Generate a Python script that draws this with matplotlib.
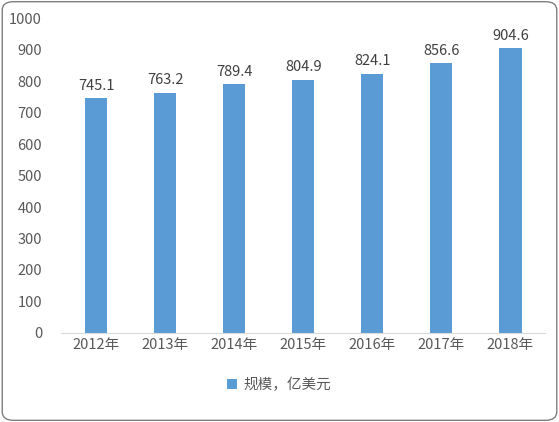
import matplotlib.pyplot as plt
from matplotlib.patches import FancyBboxPatch

plt.rcParams['font.family'] = ['Noto Sans CJK SC', 'DejaVu Sans']

years = ["2012年", "2013年", "2014年", "2015年", "2016年", "2017年", "2018年"]
values = [745.1, 763.2, 789.4, 804.9, 824.1, 856.6, 904.6]
series_name = "规模，亿美元"

fig = plt.figure(figsize=(5.59, 4.22), dpi=100)
fig.patches.append(FancyBboxPatch((0.004, 0.004), 0.992, 0.992, boxstyle="round,pad=0,rounding_size=0.02",
                                  transform=fig.transFigure, fill=False, edgecolor="#7f7f7f", linewidth=1))
ax = fig.add_axes([0.11, 0.211, 0.865, 0.746])
x = range(len(years))
ax.bar(x, values, width=0.32, color="#5B9BD5", label=series_name)
for xi, v in zip(x, values):
    ax.text(xi, v + 18, f"{v:.1f}", ha="center", va="bottom", fontsize=10.5, color="#404040")

ax.set_ylim(0, 1000)
ax.set_yticks(range(0, 1001, 100))
ax.set_xlim(-0.5, len(years) - 0.5)
ax.set_xticks(list(x))
ax.set_xticklabels(years)
for s in ["top", "right", "left"]:
    ax.spines[s].set_visible(False)
ax.spines["bottom"].set_color("#d9d9d9")
ax.tick_params(axis="both", length=0, labelsize=10.5, colors="#595959")
ax.tick_params(axis="y", pad=14)
ax.legend(loc="upper center", bbox_to_anchor=(0.45, -0.1), frameon=False, fontsize=10.5,
          handlelength=0.7, handleheight=0.7, handletextpad=0.4, labelcolor="#595959")

fig.savefig("out.png", dpi=100)
